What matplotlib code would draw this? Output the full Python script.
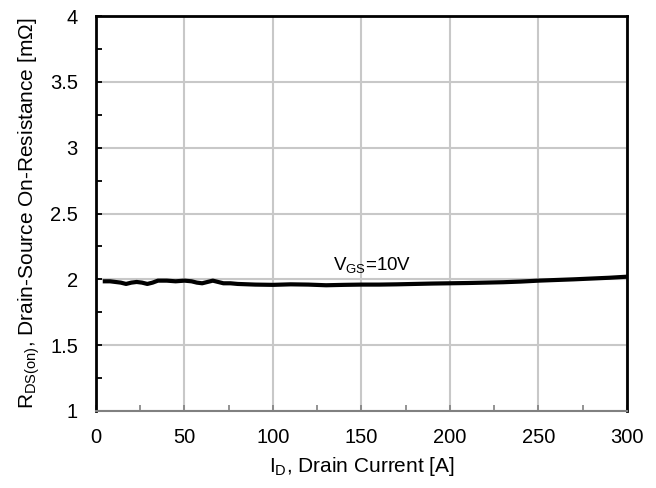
import matplotlib
matplotlib.use("Agg")
import matplotlib.pyplot as plt
from matplotlib.ticker import MultipleLocator

plt.rcParams["font.family"] = ["Liberation Sans", "DejaVu Sans"]
plt.rcParams["mathtext.fontset"] = "custom"
plt.rcParams["mathtext.rm"] = "Liberation Sans"
plt.rcParams["mathtext.it"] = "Liberation Sans"

# Drain current [A] and on-resistance [mOhm] at VGS=10V
drain_current = [5, 8, 11, 14, 17, 20, 23, 26, 29, 32, 35, 40, 45, 50, 54,
                 57, 60, 63, 66, 69, 72, 76, 80, 90, 100, 110, 120, 130, 140,
                 150, 160, 170, 180, 190, 200, 210, 220, 230, 240, 250, 260,
                 270, 280, 290, 300]
r_ds_on = [1.985, 1.985, 1.98, 1.975, 1.965, 1.975, 1.98, 1.975, 1.965, 1.975,
           1.99, 1.99, 1.985, 1.99, 1.985, 1.975, 1.97, 1.98, 1.99, 1.98,
           1.97, 1.97, 1.965, 1.96, 1.958, 1.962, 1.96, 1.955, 1.958, 1.96,
           1.96, 1.962, 1.965, 1.968, 1.97, 1.972, 1.975, 1.978, 1.983, 1.99,
           1.995, 2.0, 2.006, 2.012, 2.02]

fig = plt.figure(figsize=(6.56, 4.88), dpi=100)
ax = fig.add_axes([0.1463, 0.1578, 0.8095, 0.8094])

ax.plot(drain_current, r_ds_on, color="black", lw=3, zorder=3,
        solid_joinstyle="round")
ax.text(134, 2.11, r"V$_{\mathrm{GS}}$=10V", fontsize=13.5, va="center", ha="left")

ax.set_xlim(0, 300)
ax.set_ylim(1, 4)
ax.xaxis.set_major_locator(MultipleLocator(50))
ax.xaxis.set_minor_locator(MultipleLocator(25))
ax.yaxis.set_major_locator(MultipleLocator(0.5))
ax.yaxis.set_minor_locator(MultipleLocator(0.25))
ax.set_yticks([1, 1.5, 2, 2.5, 3, 3.5, 4])
ax.set_yticklabels(["1", "1.5", "2", "2.5", "3", "3.5", "4"])

ax.grid(True, which="major", color="#c8c8c8", lw=1.5, zorder=0)
ax.set_axisbelow(True)

for side in ("left", "top", "right"):
    ax.spines[side].set_color("black")
    ax.spines[side].set_linewidth(2.0)
ax.spines["bottom"].set_color("#808080")
ax.spines["bottom"].set_linewidth(1.5)

ax.tick_params(axis="y", which="both", direction="in", length=4, width=1.3,
               color="black", labelsize=14.5, pad=13)
ax.tick_params(axis="x", which="both", direction="in", length=4, width=1.2,
               color="#808080", labelsize=14.5, pad=12)

ax.set_xlabel(r"I$_{\mathrm{D}}$, Drain Current [A]", fontsize=15, labelpad=6)
ax.set_ylabel(r"R$_{\mathrm{DS(on)}}$, Drain-Source On-Resistance [m$\Omega$]",
              fontsize=15, labelpad=6)

fig.savefig("out.png", dpi=100)
